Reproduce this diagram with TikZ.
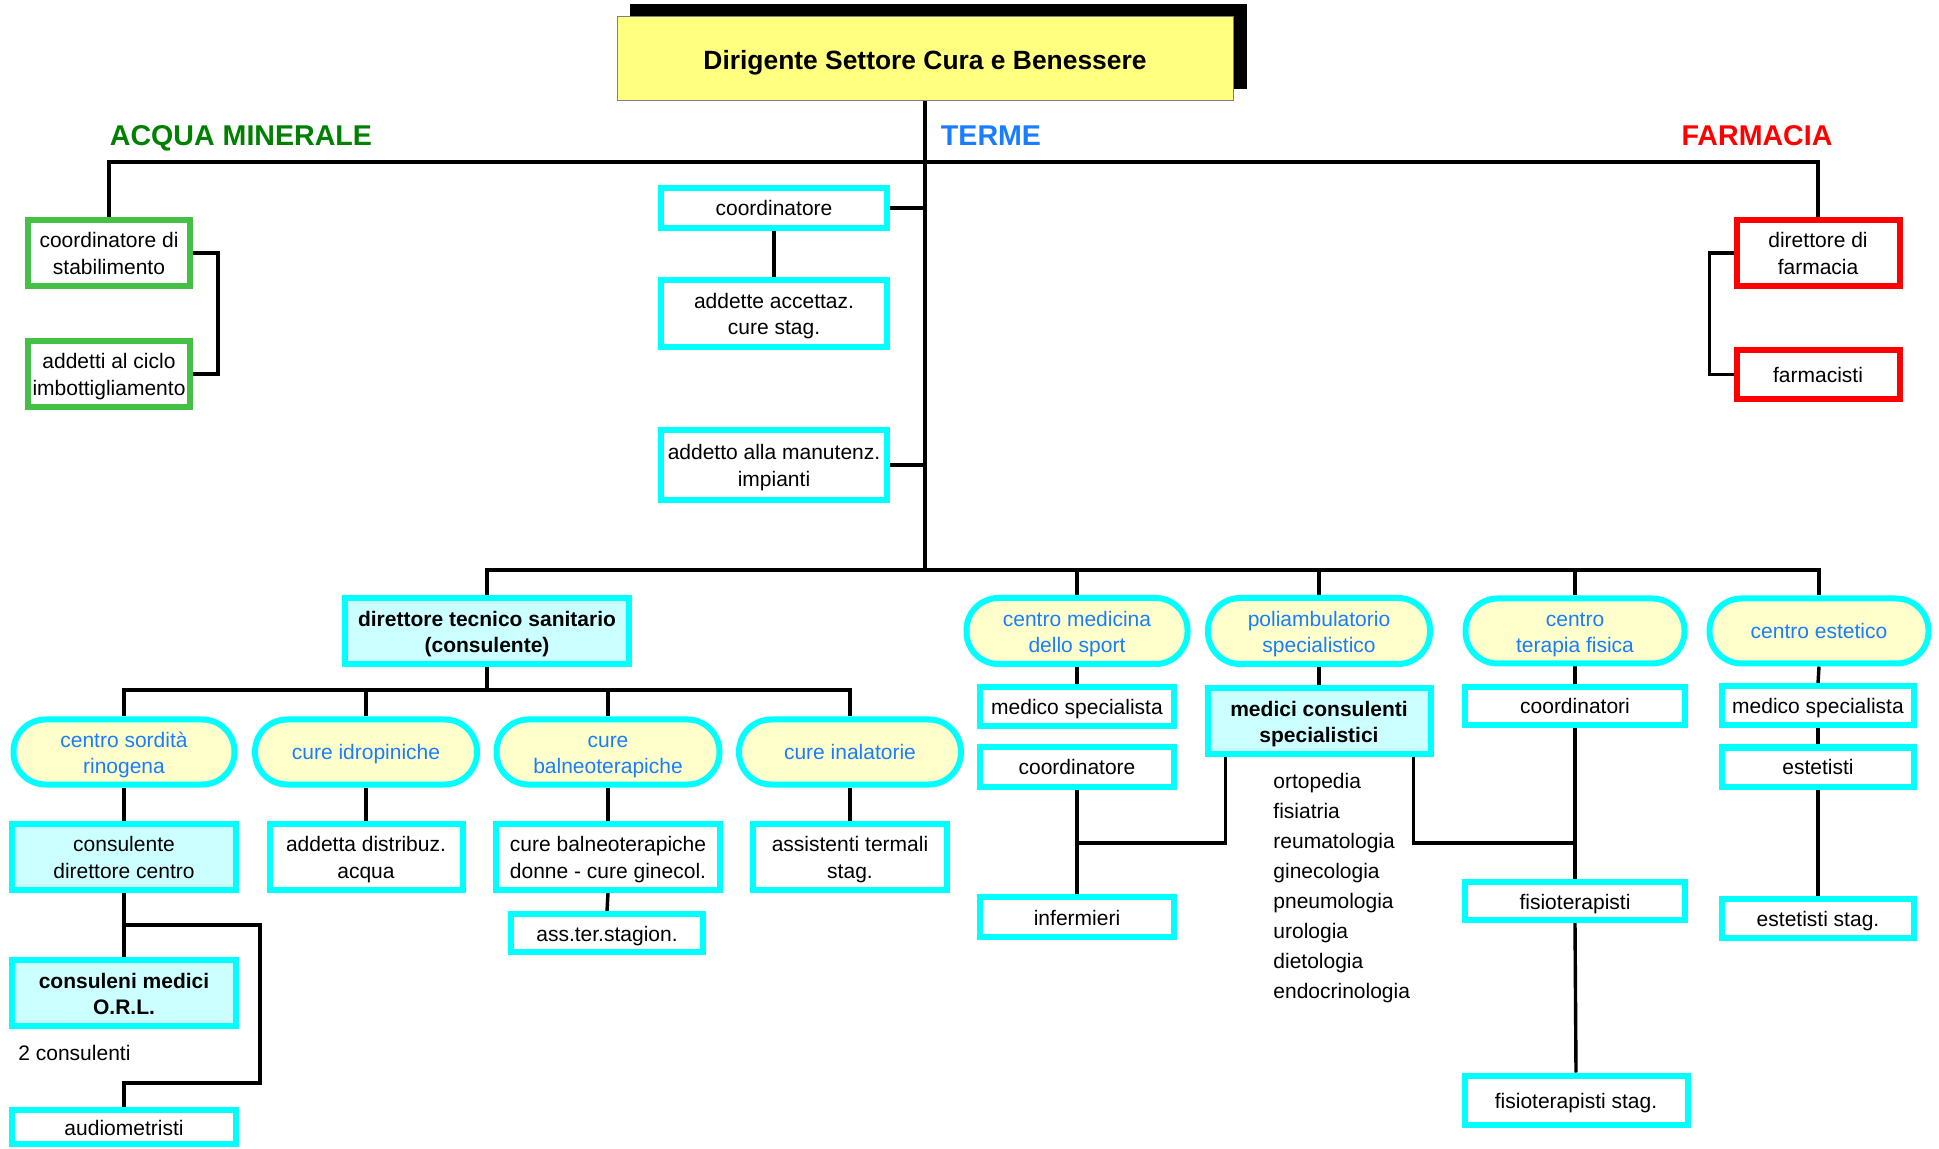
\documentclass[tikz,border=0pt]{standalone}
\usepackage{fontspec}
\setmainfont{Liberation Sans}
\usetikzlibrary{shadows,backgrounds}
\definecolor{cyanb}{RGB}{0,255,255}
\definecolor{lcyan}{RGB}{204,255,255}
\definecolor{pillfill}{RGB}{255,255,204}
\definecolor{pilltext}{RGB}{25,125,255}
\definecolor{titlefill}{RGB}{255,255,128}
\definecolor{gborder}{RGB}{68,192,68}
\definecolor{gtext}{RGB}{0,128,0}
\definecolor{rborder}{RGB}{255,0,0}
\begin{document}
\begin{tikzpicture}[x=0.5pt,y=-0.5pt,
 sz/.style 2 args={minimum width={(#1-6)*0.5pt},minimum height={(#2-6)*0.5pt}},
 base/.style={line width=3pt, inner sep=0pt, align=center, font=\fontsize{10.5}{13.3}\selectfont,
   text height=10pt, text depth=2pt},
 two/.style={text height=23.3pt, text depth=2pt},
 cbox/.style={base, draw=cyanb, fill=white},
 lcbox/.style={base, draw=cyanb, fill=lcyan},
 bbox/.style={lcbox, font=\fontsize{10.5}{13}\selectfont\bfseries},
 pill/.style={base, draw=cyanb, fill=pillfill, rounded corners=16pt, text=pilltext, font=\fontsize{10.5}{12.8}\selectfont},
 gbox/.style={base, draw=gborder, fill=white},
 rbox/.style={base, draw=rborder, fill=white},
 conn/.style={line width=1.7pt},
 hdr/.style={font=\fontsize{14.3}{16}\selectfont\bfseries, inner sep=0pt},
 plain/.style={inner sep=0pt, font=\fontsize{10.5}{13.3}\selectfont}]
\useasboundingbox (0,0) rectangle (1939,1149);

% title
\node[draw=gray, line width=0.5pt, fill=titlefill, minimum width=308pt, minimum height=42pt,
  inner sep=0pt, text height=12.5pt, text depth=2.2pt,
  font=\fontsize{13.2}{15}\selectfont\bfseries,
  copy shadow={shadow xshift=6.5pt, shadow yshift=6pt, fill=black, draw=black}] (title) at (925,59) {Dirigente Settore Cura e Benessere\hspace{10pt}};

% headers
\node[hdr, text=gtext] (hacq) at (241,138.5) {ACQUA MINERALE};
\node[hdr, text=pilltext] (hter) at (991,135.5) {TERME};
\node[hdr, text=rborder] (hfar) at (1757,135.5) {FARMACIA};

% acqua minerale
\node[gbox, two, sz={168}{72}] (am1) at (109,253) {coordinatore di\\stabilimento};
\node[gbox, two, sz={168}{72}] (am2) at (109,374) {addetti al ciclo\\imbottigliamento};

% farmacia
\node[rbox, two, sz={169}{72}] (fa1) at (1818,253) {direttore di\\farmacia};
\node[rbox, sz={169}{55}] (fa2) at (1818,374.5) {farmacisti};

% terme top
\node[cbox, sz={232}{46}] (tco) at (774,208) {coordinatore};
\node[cbox, two, sz={232}{73}] (tadd) at (774,313.5) {addette accettaz.\\cure stag.};
\node[cbox, two, sz={232}{76}] (tman) at (774,465) {addetto alla manutenz.\\impianti};

% direttore tecnico
\node[bbox, two, sz={290}{72}] (dts) at (487,631) {direttore tecnico sanitario\\(consulente)};

\node[pill, two, sz={227}{71}] (csr) at (124,752) {centro sordità\\rinogena};
\node[pill, sz={228}{71}] (cid) at (366,752) {cure idropiniche};
\node[pill, two, sz={229}{71}] (cba) at (608,752) {cure\\balneoterapiche};
\node[pill, sz={228}{71}] (cin) at (850,752) {cure inalatorie};

\node[lcbox, two, sz={230}{72}] (cdc) at (124,857) {consulente\\direttore centro};
\node[cbox, two, sz={199}{72}] (adq) at (366,857) {addetta distribuz.\\acqua};
\node[cbox, two, sz={230}{72}] (cbd) at (608,857) {cure balneoterapiche\\donne - cure ginecol.};
\node[cbox, sz={198}{44}] (ass) at (607,933) {ass.ter.stagion.};
\node[cbox, two, sz={200}{72}] (ats) at (850,857) {assistenti termali\\stag.};

\node[bbox, two, sz={230}{72}] (cmo) at (124,993) {consuleni medici\\O.R.L.};
\node[plain, anchor=west] (cons2) at (18,1053) {2 consulenti};
\node[cbox, sz={230}{40}] (aud) at (124,1127) {audiometristi};

% right side
\node[pill, two, sz={227}{72}] (pms) at (1077,631) {centro medicina\\dello sport};
\node[pill, two, sz={228}{72}] (ppol) at (1319,631) {poliambulatorio\\specialistico};
\node[pill, two, sz={225}{71}] (pfis) at (1575,631) {centro\\terapia fisica};
\node[pill, sz={225}{71}] (pest) at (1819,631) {centro estetico};

\node[cbox, sz={200}{45}] (msp) at (1077,706.5) {medico specialista};
\node[cbox, sz={200}{46}] (cos) at (1077,767) {coordinatore};
\node[cbox, sz={200}{46}] (inf) at (1077,917) {infermieri};

\node[bbox, two, sz={229}{71}] (mcs) at (1319,721) {medici consulenti\\specialistici};
\node[plain, anchor=west, align=left, font=\fontsize{10.5}{15}\selectfont] (spec) at (1273,888)
  {ortopedia\\fisiatria\\reumatologia\\ginecologia\\pneumologia\\urologia\\dietologia\\endocrinologia};

\node[cbox, sz={226}{44}] (cor) at (1575,706) {coordinatori};
\node[cbox, sz={226}{44}] (fis) at (1575,901) {fisioterapisti};
\node[cbox, sz={229}{55}] (fst) at (1576,1100) {fisioterapisti stag.};

\node[cbox, sz={198}{45}] (mse) at (1818,706) {medico specialista};
\node[cbox, sz={198}{45}] (este) at (1818,767) {estetisti};
\node[cbox, sz={198}{45}] (ests) at (1818,918) {estetisti stag.};

\coordinate (ctop) at (925,162);
\coordinate (hub) at (925,570);
\coordinate (c2) at (487,690);
\coordinate (b1) at (124,925);
\coordinate (b2) at (124,1083);
\coordinate (b3) at (1077,843);
\coordinate (b4) at (1575,843);

\begin{scope}[on background layer]
\draw[conn] (title.south) -- (hub);
\draw[conn] (am1.north) |- (ctop) -| (fa1.north);
\draw[conn] (am1.east) -- ++(25,0) |- (am2.east);
\draw[conn] (fa1.west) -- ++(-24,0) |- (fa2.west);
\draw[conn] (tco.east) -- (tco.east -| ctop);
\draw[conn] (tco.south) -- (tadd.north);
\draw[conn] (tman.east) -- (tman.east -| ctop);
\draw[conn] (dts.north) |- (hub) -| (pest.north);
\draw[conn] (pms.north) -- (pms.north |- hub);
\draw[conn] (ppol.north) -- (ppol.north |- hub);
\draw[conn] (pfis.north) -- (pfis.north |- hub);
\draw[conn] (dts.south) -- (c2);
\draw[conn] (csr.north) |- (c2) -| (cin.north);
\draw[conn] (cid.north) -- (cid.north |- c2);
\draw[conn] (cba.north) -- (cba.north |- c2);
\draw[conn] (csr.south) -- (cdc.north);
\draw[conn] (cid.south) -- (adq.north);
\draw[conn] (cba.south) -- (cbd.north);
\draw[conn] (cbd.south) -- (ass.north);
\draw[conn] (cin.south) -- (ats.north);
\draw[conn] (cdc.south) -- (cmo.north);
\draw[conn] (b1) -- ++(136,0) |- (b2) -- (aud.north);
\draw[conn] (pms.south) -- (msp.north);
\draw[conn] (cos.south) -- (inf.north);
\draw[conn] (b3) -| ([xshift=10.5pt]mcs.south west);
\draw[conn] (ppol.south) -- (mcs.north);
\draw[conn] ([xshift=-10pt]mcs.south east) |- (b4);
\draw[conn] (pfis.south) -- (cor.north);
\draw[conn] (cor.south) -- (fis.north);
\draw[conn] (fis.south) -- (fst.north);
\draw[conn] (pest.south) -- (mse.north);
\draw[conn] (mse.south) -- (este.north);
\draw[conn] (este.south) -- (ests.north);
\end{scope}
\end{tikzpicture}
\end{document}
